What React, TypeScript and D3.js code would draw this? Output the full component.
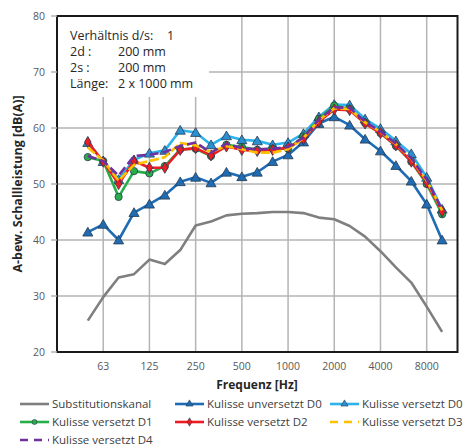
import React from 'react';
import * as d3 from 'd3';

// third-octave bands, 50 Hz .. 10 kHz
const bands = ['50', '63', '80', '100', '125', '160', '200', '250', '315', '400', '500', '630', '800', '1000', '1250', '1600', '2000', '2500', '3150', '4000', '5000', '6300', '8000', '10000'];
const tickBands = ['63', '125', '250', '500', '1000', '2000', '4000', '8000'];
const yTicks = [20, 30, 40, 50, 60, 70, 80];

const substitution = [25.6, 29.8, 33.3, 33.9, 36.5, 35.7, 38.2, 42.6, 43.3, 44.4, 44.7, 44.8, 45.0, 45.0, 44.8, 44.0, 43.7, 42.5, 40.6, 38.0, 35.1, 32.4, 28.1, 23.6];
const unversetztD0 = [41.4, 42.8, 40.0, 44.9, 46.4, 48.0, 50.4, 51.2, 50.2, 52.1, 51.3, 52.1, 54.0, 55.2, 57.5, 60.8, 62.0, 60.5, 58.0, 55.9, 53.3, 50.5, 46.4, 40.0];
const versetztD0 = [57.4, 54.0, 50.8, 54.3, 55.5, 56.0, 59.6, 59.2, 57.0, 58.6, 57.9, 57.7, 57.0, 57.4, 59.0, 62.0, 64.2, 64.1, 61.6, 59.9, 57.7, 55.4, 51.2, 45.5];
const versetztD1 = [54.8, 54.1, 47.7, 52.3, 51.9, 53.2, 56.2, 56.3, 55.0, 57.0, 56.6, 56.1, 56.3, 56.3, 58.5, 61.6, 64.0, 63.4, 60.9, 59.1, 56.8, 54.0, 50.0, 44.6];
const versetztD2 = [57.5, 54.0, 50.0, 54.1, 52.9, 52.9, 56.1, 56.4, 55.1, 56.7, 56.1, 55.9, 56.1, 56.5, 58.0, 61.1, 63.3, 63.2, 60.8, 59.1, 56.9, 54.0, 50.3, 45.1];
const versetztD3 = [56.5, 54.2, 50.6, 53.4, 54.1, 54.8, 57.3, 56.9, 55.7, 56.8, 56.2, 55.6, 55.6, 56.2, 58.2, 61.4, 63.5, 63.4, 61.0, 59.3, 57.1, 54.5, 50.6, 45.3];
const versetztD4 = [55.0, 54.1, 51.5, 55.0, 55.2, 55.7, 56.8, 57.4, 55.6, 57.2, 56.4, 56.2, 56.3, 56.6, 58.3, 61.5, 63.7, 63.6, 61.1, 59.4, 57.2, 54.6, 50.8, 45.4];

type Series = {
  name: string;
  values: number[];
  color: string;
  marker?: 'triangle' | 'circle' | 'diamond';
  markerFill?: string;
  dash?: string;
};

const series: Series[] = [
  { name: 'Substitutionskanal', values: substitution, color: '#7f7f7f' },
  { name: 'Kulisse unversetzt D0', values: unversetztD0, color: '#1f6cb4', marker: 'triangle', markerFill: '#1f6cb4' },
  { name: 'Kulisse versetzt D0', values: versetztD0, color: '#2cb3ec', marker: 'triangle', markerFill: '#2b8fd2' },
  { name: 'Kulisse versetzt D1', values: versetztD1, color: '#27ae4a', marker: 'circle', markerFill: '#27ae4a' },
  { name: 'Kulisse versetzt D2', values: versetztD2, color: '#ec1c24', marker: 'diamond', markerFill: '#ec1c24' },
  { name: 'Kulisse versetzt D3', values: versetztD3, color: '#ffc000', dash: '9,3' },
  { name: 'Kulisse versetzt D4', values: versetztD4, color: '#7030a0', dash: '9,4' },
];

const W = 465;
const H = 447;
const plot = { left: 57, right: 457.5, top: 16, bottom: 352 };
const font = '"Open Sans", "Noto Sans", sans-serif';

const symbolPath = (m: string | undefined, size: number) => {
  const type = m === 'triangle' ? d3.symbolTriangle : m === 'circle' ? d3.symbolCircle : d3.symbolDiamond;
  return d3.symbol().type(type).size(size)() || '';
};

const App = () => {
  // x: band index on a log-frequency axis (one step = one third octave)
  const x = d3.scaleLinear().domain([-2, 24]).range([plot.left, plot.right]);
  const y = d3.scaleLinear().domain([20, 80]).range([plot.bottom, plot.top]);
  const bx = (b: string) => x(bands.indexOf(b));

  const line = d3.line<number>().x((_, i) => x(i)).y(d => y(d));

  const legendCols = [20, 175, 330];
  const legendRows = [404, 422, 440];

  return (
    <svg width={W} height={H} style={{ position: 'absolute', left: 0, top: 0, background: '#fff' }} fontFamily={font}>
      <rect x={0} y={0} width={W} height={H} fill="#fff" />

      {/* grid */}
      {yTicks.filter(t => t > 20 && t < 80).map(t => (
        <line key={'hy' + t} x1={plot.left} x2={plot.right} y1={y(t)} y2={y(t)} stroke="#b4b4b4" strokeWidth={1.5} />
      ))}
      {tickBands.map(b => (
        <line key={'vx' + b} x1={bx(b)} x2={bx(b)} y1={plot.top} y2={plot.bottom} stroke="#b4b4b4" strokeWidth={1.5} />
      ))}

      {/* info box covers the grid */}
      <rect x={plot.left + 1} y={plot.top + 1} width={151} height={80} fill="#fff" />
      <g fontSize={12.5} fill="#262626">
        <text x={70} y={39.5}>Verhältnis d/s:</text>
        <text x={167} y={39.5}>1</text>
        <text x={70} y={55.5}>2d :</text>
        <text x={118} y={55.5}>200 mm</text>
        <text x={70} y={71.5}>2s :</text>
        <text x={118} y={71.5}>200 mm</text>
        <text x={70} y={87.5}>Länge:</text>
        <text x={118} y={87.5}>2 x 1000 mm</text>
      </g>

      {/* series */}
      {series.map(s => (
        <g key={s.name}>
          <path d={line(s.values) || ''} fill="none" stroke={s.color} strokeWidth={2.6}
            strokeDasharray={s.dash} strokeLinejoin="round" />
          {s.marker && s.values.map((v, i) => (
            <path key={i} d={symbolPath(s.marker, s.marker === 'triangle' ? 44 : s.marker === 'circle' ? 42 : 36)}
              transform={`translate(${x(i)},${y(v) + (s.marker === 'triangle' ? 1 : 0)})`}
              fill={s.markerFill} stroke="#263a4d" strokeWidth={0.8} />
          ))}
        </g>
      ))}

      {/* frame */}
      <rect x={plot.left} y={plot.top} width={plot.right - plot.left} height={plot.bottom - plot.top}
        fill="none" stroke="#1a1a1a" strokeWidth={2} />
      {yTicks.map(t => (
        <line key={'tk' + t} x1={plot.left - 6} x2={plot.left} y1={y(t)} y2={y(t)} stroke="#b4b4b4" strokeWidth={1.5} />
      ))}

      {/* axis labels */}
      <g fontSize={10.5} fill="#595959">
        {yTicks.map(t => (
          <text key={'yl' + t} x={45} y={y(t)} dy="0.35em" textAnchor="end">{t}</text>
        ))}
        {tickBands.map(b => (
          <text key={'xl' + b} x={bx(b)} y={370} textAnchor="middle">{b}</text>
        ))}
      </g>
      <text x={257} y={389} textAnchor="middle" fontSize={12} fontWeight="bold" fill="#262626">Frequenz [Hz]</text>
      <text transform={`translate(22,${(plot.top + plot.bottom) / 2}) rotate(-90)`} textAnchor="middle"
        fontSize={12.5} fontWeight="bold" fill="#262626">A-bew. Schallleistung [dB(A)]</text>

      {/* legend */}
      {series.map((s, i) => {
        const lx = legendCols[i % 3];
        const ly = legendRows[Math.floor(i / 3)];
        return (
          <g key={'lg' + s.name}>
            <line x1={lx} x2={lx + 29} y1={ly} y2={ly} stroke={s.color} strokeWidth={2.6}
              strokeDasharray={s.dash ? '8,6' : undefined} />
            {s.marker && (
              <path d={symbolPath(s.marker, s.marker === 'triangle' ? 22 : 20)}
                transform={`translate(${lx + 14.5},${ly})`} fill={s.markerFill} stroke="#263a4d" strokeWidth={0.6} />
            )}
            <text x={lx + 32} y={ly} dy="0.35em" fontSize={11.5} fill="#404040">{s.name}</text>
          </g>
        );
      })}
    </svg>
  );
};

export default App;
